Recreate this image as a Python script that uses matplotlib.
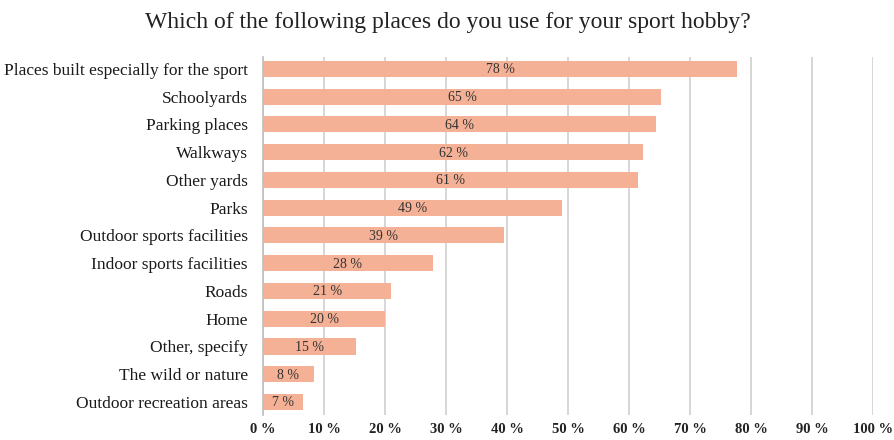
import matplotlib.pyplot as plt

places = ['Places built especially for the sport', 'Schoolyards', 'Parking places',
          'Walkways', 'Other yards', 'Parks', 'Outdoor sports facilities',
          'Indoor sports facilities', 'Roads', 'Home', 'Other, specify',
          'The wild or nature', 'Outdoor recreation areas']
values = [77.7, 65.2, 64.4, 62.3, 61.4, 48.9, 39.5, 27.8, 21.0, 20.0, 15.2, 8.3, 6.6]
labels = ['78 %', '65 %', '64 %', '62 %', '61 %', '49 %', '39 %', '28 %', '21 %',
          '20 %', '15 %', '8 %', '7 %']
ticks = list(range(0, 101, 10))

plt.rcParams['font.family'] = ['Liberation Serif', 'DejaVu Serif']

fig = plt.figure(figsize=(8.95, 4.40), dpi=100)
ax = fig.add_axes([0.2939, 0.0568, 0.6820, 0.8137])

ypos = list(range(len(places)))
ax.barh(ypos, values, height=0.58, color='#f4b196', zorder=2)
for y, v, t in zip(ypos, values, labels):
    ax.text(v / 2, y + 0.03, t, ha='center', va='center', fontsize=10, color='#333333', zorder=3)

ax.set_xlim(0, 100)
ax.set_ylim(12.47, -0.43)
ax.set_xticks(ticks)
ax.set_xticklabels([f'{t} %' for t in ticks], fontsize=10.5, fontweight='bold', color='#222222')
ax.set_yticks(ypos)
ax.set_yticklabels(places, fontsize=12.5, color='#1a1a1a')
ax.tick_params(axis='both', length=0)
ax.tick_params(axis='y', pad=11)
ax.tick_params(axis='x', pad=6)
ax.grid(axis='x', color='#d0d0d0', linewidth=1.2, zorder=0)
for s in ['top', 'right', 'bottom']:
    ax.spines[s].set_visible(False)
ax.spines['left'].set_color('#bfbfbf')
ax.spines['left'].set_linewidth(1.2)

fig.text(0.5, 0.948, 'Which of the following places do you use for your sport hobby?',
         ha='center', va='center', fontsize=17, color='#222222')

plt.savefig('out.png', dpi=100)
